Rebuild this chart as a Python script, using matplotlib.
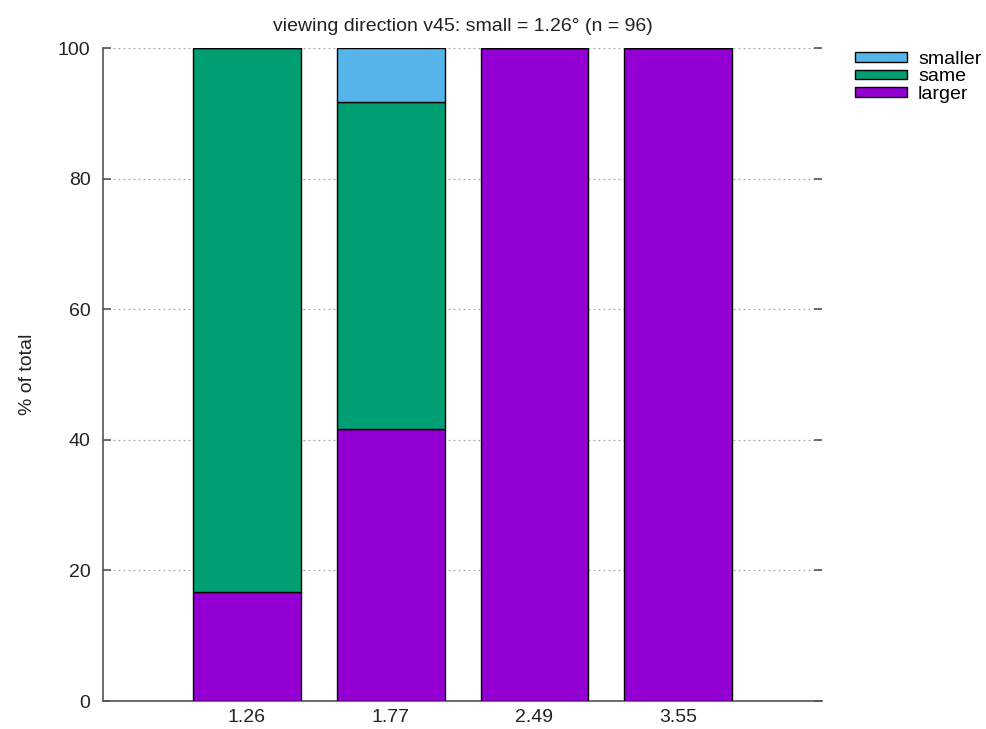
import numpy as np
import matplotlib
matplotlib.use("Agg")
import matplotlib.pyplot as plt
from matplotlib.patches import Patch

plt.rcParams['font.family'] = ['Liberation Sans', 'DejaVu Sans']

sizes = ["1.26", "1.77", "2.49", "3.55"]
larger = [16.67, 41.67, 100.0, 100.0]
same = [83.33, 50.0, 0.0, 0.0]
smaller = [0.0, 8.33, 0.0, 0.0]

c_smaller = "#56b4e9"
c_same = "#009e73"
c_larger = "#9400d3"

fig = plt.figure(figsize=(9.86, 7.29), dpi=100)
ax = fig.add_axes([0.1045, 0.0384, 0.7292, 0.8957])

x = np.arange(len(sizes))
w = 0.75
larger = np.array(larger)
same = np.array(same)
smaller = np.array(smaller)

ax.bar(x, larger, w, color=c_larger, edgecolor="black", linewidth=1, zorder=3)
ax.bar(x, same, w, bottom=larger, color=c_same, edgecolor="black", linewidth=1, zorder=3)
ax.bar(x, smaller, w, bottom=larger + same, color=c_smaller, edgecolor="black", linewidth=1, zorder=3)

ax.set_xlim(-1, 4)
ax.set_ylim(0, 100)
ax.set_xticks(x)
ax.set_xticklabels(sizes)
ax.set_yticks([0, 20, 40, 60, 80, 100])
ax.tick_params(axis="x", length=0, labelsize=14, pad=6, colors="#222222")
ax.tick_params(axis="y", direction="in", length=6, width=1.2, labelsize=14,
               right=True, pad=9, color="#555555", labelcolor="#222222")
ax.yaxis.grid(True, linestyle=(0, (1.5, 2.5)), color="#aaaaaa", linewidth=0.9, zorder=0)

for s in ["top", "right"]:
    ax.spines[s].set_visible(False)
for s in ["left", "bottom"]:
    ax.spines[s].set_color("#555555")
    ax.spines[s].set_linewidth(1.2)

ax.set_ylabel("% of total", fontsize=14, labelpad=16, color="#222222")
ax.set_title("viewing direction v45: small = 1.26° (n = 96)", fontsize=14, pad=12,
             color="#222222")

handles = [Patch(facecolor=c_smaller, edgecolor="black"),
           Patch(facecolor=c_same, edgecolor="black"),
           Patch(facecolor=c_larger, edgecolor="black")]
fig.legend(handles, ["smaller", "same", "larger"], loc="upper left",
           bbox_to_anchor=(0.867, 0.930), frameon=False, fontsize=14,
           handlelength=2.7, handleheight=0.4, labelspacing=0.02,
           handletextpad=0.55, borderpad=0, borderaxespad=0)

fig.savefig("out.png", dpi=100)
